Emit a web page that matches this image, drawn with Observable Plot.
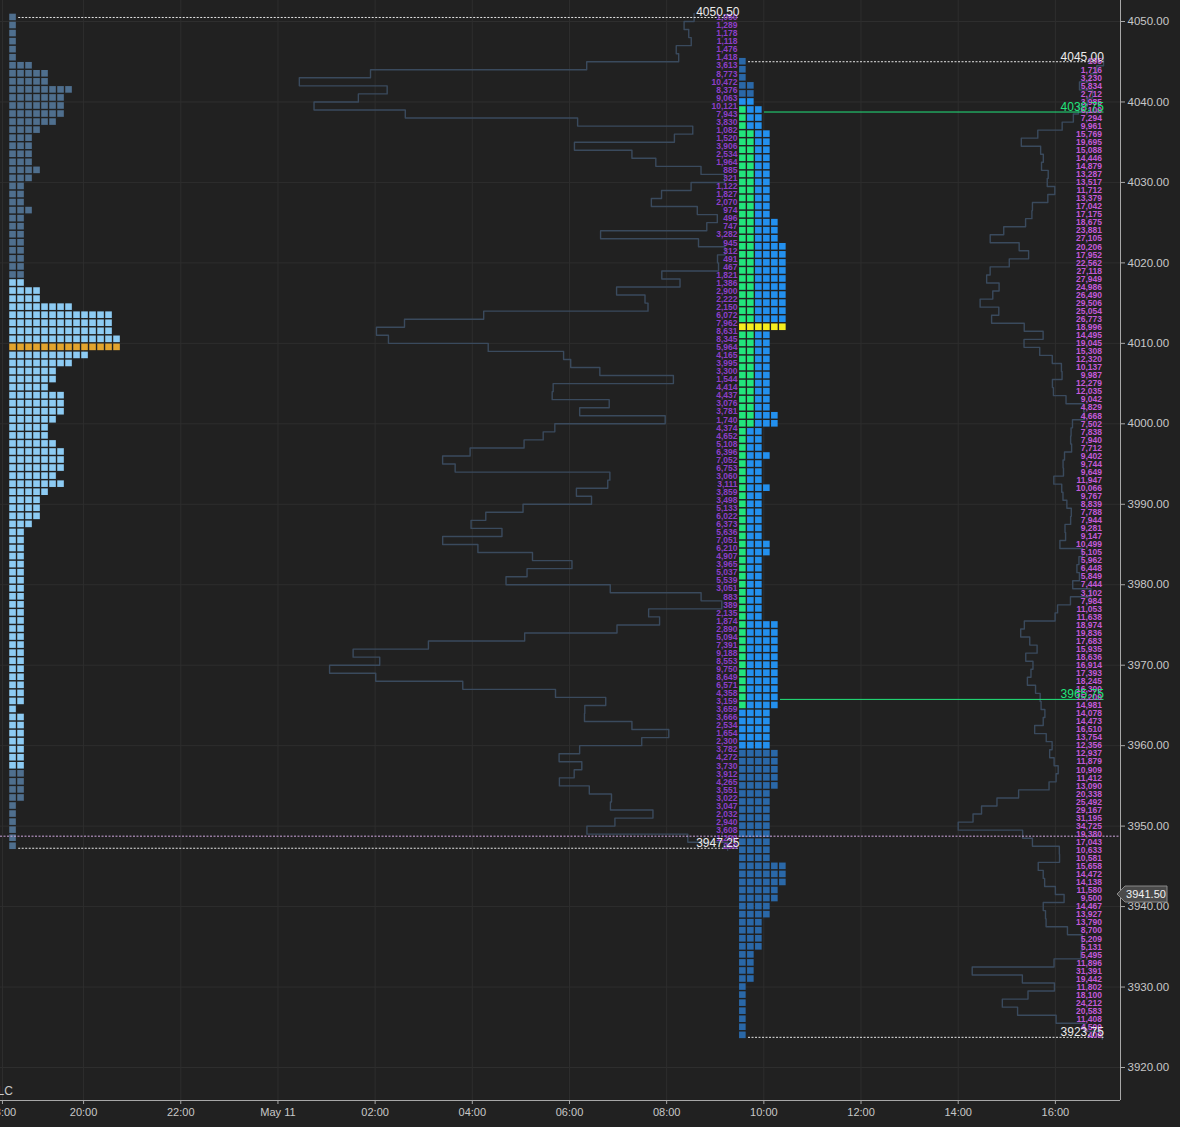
<!DOCTYPE html>
<html><head><meta charset="utf-8">
<script src="https://cdn.jsdelivr.net/npm/d3@7"></script>
<script src="https://cdn.jsdelivr.net/npm/@observablehq/plot@0.6"></script>
<style>html,body{margin:0;padding:0;background:#212121;overflow:hidden}svg{display:block}</style>
</head><body><div id="chart"></div>
<script>
// ---------------- data ----------------
// time axis: hours since May 10 00:00
const timeTicks = [18.33, 20, 22, 24, 26, 28, 30, 32, 34, 36, 38, 40];
const timeLabels = ["18:00","20:00","22:00","May 11","02:00","04:00","06:00","08:00","10:00","12:00","14:00","16:00"];
const priceTicks = [3920,3930,3940,3950,3960,3970,3980,3990,4000,4010,4020,4030,4040,4050];

// overnight (ETH) profile, rows from 4050.5 down to 3947.5
const ethTop = 4050.5;
const ethTPO = [1,1,1,1,1,1,3,5,5,8, 7,7,7,6,4,3,3,3,3,4, 3,2,2,2,3,2,2,2,2,2,
  2,2,2,2,4,4,8,13,13,13, 14,14,10,8,6,6,5,7,7,7, 6,5,5,6,7,7,7,6,7,5,
  4,4,4,3,2,2,2,2,2,2, 2,2,2,2,2,2,2,2,2,2, 2,2,2,2,2,2,1,2,2,2,
  2,2,2,2,2,2,2,2,1,1, 1,1,1,1];
const ethVol = [1050,1289,1178,1118,1476,1418,3613,8773,10472,8376, 9063,10121,7943,3830,1082,1520,3906,2534,1964,885,
  321,1122,1827,2070,974,496,747,3282,945,312, 491,467,1821,1386,2900,2222,2150,6072,7962,8631,
  8345,5964,4165,3995,3300,1544,4414,4437,3076,3781, 1740,4374,4652,5108,6396,7052,6753,3060,3111,3859,
  3498,5133,6022,6373,5636,7051,6210,4907,3965,5037, 5539,3051,883,389,2135,1874,2890,5094,7391,9188,
  8553,9750,8649,6571,4358,3159,3659,3666,2534,1654, 2300,3782,4272,3730,3912,4265,3551,3022,3047,2032,
  2940,3608,1200,250];
const ethVAH = 4017.5, ethVAL = 3957.5, ethPOC = 4009.5;

// day session (RTH) profile, rows from 4045 down to 3924
const rthTop = 4045;
const rthTPO = [1,1,1,2,2,2,3,3,3,4, 4,4,4,4,4,4,4,4,4,4, 5,5,5,6,6,6,6,6,6,6,
  6,6,6,6,4,4,4,4,4,4, 4,4,4,4,5,5,3,3,3,4, 3,3,3,4,3,3,3,3,3,3,
  4,4,3,3,3,3,3,3,3,3, 5,5,5,5,5,5,5,5,5,5, 5,4,4,4,4,4,5,5,5,5,
  5,4,4,4,4,4,4,4,4,4, 6,6,6,5,5,4,4,3,3,3, 3,2,2,2,2,1,1,1,1,1,
  1,1];
const rthIB = [0,0,0,0,0,0,1,1,1,2, 2,2,2,2,2,2,2,2,2,2, 2,2,2,2,2,2,2,2,2,2,
  2,2,2,2,2,2,2,2,2,2, 2,2,2,2,2,2,1,1,1,1, 1,1,1,1,1,1,1,1,1,1,
  1,1,1,1,1,1,1,1,1,1, 1,1,1,1,1,1,1,1,1,1, 1,0,0,0,0,0,0,0,0,0,
  0,0,0,0,0,0,0,0,0,0, 0,0,0,0,0,0,0,0,0,0, 0,0,0,0,0,0,0,0,0,0,
  0,0];
const rthVol = [105,1716,3230,5834,2712,3985,6100,7294,9961,15769,
  19695,15088,14446,14879,13287,13517,11712,13379,17042,17175,
  18675,23881,27105,20206,17952,22562,27118,27949,24986,26490,
  29506,25054,26773,18996,14495,19045,15308,12320,10137,9987,
  12279,12035,9042,4829,4668,7502,7838,7940,7712,9402,
  9744,9649,11947,10066,9767,8839,7788,7944,9281,9147,
  10499,5105,5962,6448,5849,7444,3102,7984,11053,11638,
  18974,19836,17683,15935,18636,16914,17393,18245,16300,15200,
  14981,14078,14473,16510,13754,12356,12937,11879,10909,11412,
  13090,20338,25492,29167,31195,34725,19380,17043,10633,10581,
  15658,14472,14138,11580,9500,14467,13927,13790,8700,5209,
  5131,5495,11896,31391,19442,11802,18100,24212,20583,11408,
  4500,400];
const rthVAH = 4040, rthVAL = 3960, rthPOC = 4012;

// session timing (hours since May 10 00:00)
const ethProfileStart = 18.48, rthOpen = 33.5, rthClose = 41.0;

// reference levels
const dashedLevels = [
  {price: 4050.50, label: "4050.50", kind: "eth"},
  {price: 3947.25, label: "3947.25", kind: "eth"},
  {price: 4045.00, label: "4045.00", kind: "rth"},
  {price: 3923.75, label: "3923.75", kind: "rth"}
];
const ibLevels = [
  {price: 4038.75, label: "4038.75", kind: "rth"},
  {price: 3965.75, label: "3965.75", kind: "rth"}
];
const settlePrice = 3948.75;
const lastPrice = 3941.50;

// ---------------- layout helpers ----------------
const W = 1180, H = 1127, mR = 60, mB = 27;
const xDom = [18.29, 41.34], yDom = [3915.90, 4052.61];
const pxH = (W - mR) / (xDom[1] - xDom[0]);        // px per hour
const colW = 8 / pxH, sqW = 6.6 / pxH;              // TPO column pitch / square width
const sqH = 0.41;                                     // half square height (price units)
const ethVolMax = 9.03, rthVolMax = 3.0;             // widest volume row (hours)

const C = {
  bg: "#212121", grid: "#2e2e2e", axis: "#a8a8a8", text: "#c8c8c8",
  ethOut: "#4f6f8e", ethVA: "#8dcbf3", ethPOC: "#e2a42e",
  rthOut: "#2a68a8", rthVA: "#2390ee", ib: "#22e57c", rthPOCc: "#f6ec1e",
  vline: "#3a4a5d", ethNum: "#8e3fc8", rthNum: "#c35ad8"
};

const ethRows = ethTPO.map((n, k) => ({price: ethTop - k, n, vol: ethVol[k]}));
const rthRows = rthTPO.map((n, i) => ({price: rthTop - i, n, ib: rthIB[i], vol: rthVol[i]}));

const ethCells = [];
for (const r of ethRows) for (let j = 0; j < r.n; j++) {
  const fill = r.price === ethPOC ? C.ethPOC : (r.price <= ethVAH && r.price >= ethVAL ? C.ethVA : C.ethOut);
  ethCells.push({x1: ethProfileStart + j * colW, x2: ethProfileStart + j * colW + sqW, y1: r.price - sqH, y2: r.price + sqH, fill});
}
const rthCells = [];
for (const r of rthRows) for (let j = 0; j < r.n; j++) {
  let fill = r.price <= rthVAH && r.price >= rthVAL ? C.rthVA : C.rthOut;
  if (j < r.ib) fill = C.ib;
  if (r.price === rthPOC) fill = C.rthPOCc;
  rthCells.push({x1: rthOpen + j * colW, x2: rthOpen + j * colW + sqW, y1: r.price - sqH, y2: r.price + sqH, fill});
}

const ethMaxVol = d3.max(ethVol), rthMaxVol = d3.max(rthVol);
const ethLine = ethRows.flatMap(r => {
  const x = rthOpen - 0.03 - r.vol / ethMaxVol * ethVolMax;
  return [{x, y: r.price + 0.5}, {x, y: r.price - 0.5}];
});
const rthLine = rthRows.flatMap(r => {
  const x = rthClose - r.vol / rthMaxVol * rthVolMax;
  return [{x, y: r.price + 0.5}, {x, y: r.price - 0.5}];
});

// level line extents: start right after the profile row that holds the price
function rowEnd(kind, price) {
  if (kind === "eth") {
    const r = ethRows.find(r => Math.abs(r.price - price) <= 0.5);
    return ethProfileStart + r.n * colW + 0.02;
  }
  const r = rthRows.find(r => Math.abs(r.price - price) <= 0.5);
  return rthOpen + r.n * colW + 0.02;
}
const seg = l => ({...l, x1: rowEnd(l.kind, l.price), x2: l.kind === "eth" ? rthOpen : rthClose});
const dashedSegs = dashedLevels.map(seg);
const ibSegs = ibLevels.map(seg);

const fmt = d3.format(",");
const labelMap = new Map(timeTicks.map((t, i) => [t, timeLabels[i]]));
const numFont = "'Liberation Sans Narrow', 'Liberation Sans', Arial, sans-serif";

const plot = Plot.plot({
  width: W, height: H,
  marginLeft: 0, marginRight: mR, marginTop: 0, marginBottom: mB,
  style: {background: C.bg, color: C.text, fontFamily: "'Liberation Sans', Arial, sans-serif", fontSize: "11px", overflow: "visible"},
  x: {domain: xDom},
  y: {domain: yDom},
  marks: [
    Plot.ruleY(priceTicks, {stroke: C.grid, strokeWidth: 1}),
    Plot.ruleX(timeTicks, {stroke: C.grid, strokeWidth: 1}),
    // volume profiles (step outlines)
    Plot.line(ethLine, {x: "x", y: "y", stroke: C.vline, strokeWidth: 1.4}),
    Plot.line(rthLine, {x: "x", y: "y", stroke: C.vline, strokeWidth: 1.4}),
    // TPO squares
    Plot.rect(ethCells, {x1: "x1", x2: "x2", y1: "y1", y2: "y2", fill: "fill"}),
    Plot.rect(rthCells, {x1: "x1", x2: "x2", y1: "y1", y2: "y2", fill: "fill"}),
    // settlement line
    Plot.ruleY([settlePrice], {x1: xDom[0], x2: xDom[1], stroke: "#cfa6de", strokeDasharray: "2,1.5", strokeWidth: 1}),
    // level lines
    Plot.ruleY(dashedSegs, {y: "price", x1: "x1", x2: "x2", stroke: "#e6e6e6", strokeDasharray: "2,1.5", strokeWidth: 1}),
    Plot.ruleY(ibSegs, {y: "price", x1: "x1", x2: "x2", stroke: C.ib, strokeWidth: 1}),
    // volume numbers
    Plot.text(ethRows, {x: rthOpen, y: "price", text: d => fmt(d.vol), textAnchor: "end", dx: -2, fill: C.ethNum, fontSize: 8.5, fontWeight: "bold", fontFamily: numFont}),
    Plot.text(rthRows, {x: rthClose, y: "price", text: d => fmt(d.vol), textAnchor: "end", dx: -2, fill: C.rthNum, fontSize: 8.5, fontWeight: "bold", fontFamily: numFont}),
    // level labels
    Plot.text(dashedSegs, {x: "x2", y: "price", text: "label", textAnchor: "end", lineAnchor: "bottom", dy: -1, fill: "#ececec", fontSize: 12}),
    Plot.text(ibSegs, {x: "x2", y: "price", text: "label", textAnchor: "end", lineAnchor: "bottom", dy: -1, fill: C.ib, fontSize: 12}),
    // axes
    Plot.axisY(priceTicks, {anchor: "right", tickSize: 4, tickPadding: 3, tickFormat: d => d.toFixed(2), fontSize: 11.5, stroke: C.axis, fill: C.text}),
    Plot.axisX(timeTicks, {anchor: "bottom", tickSize: 4, tickPadding: 4, tickFormat: d => labelMap.get(d), fontSize: 11, stroke: C.axis, fill: C.text}),
    Plot.ruleX([xDom[1]], {stroke: C.axis, strokeWidth: 1}),
    Plot.ruleY([yDom[0]], {stroke: C.axis, strokeWidth: 1}),
    Plot.text(["LC"], {frameAnchor: "bottom-left", dx: -3, dy: -6, fill: C.text, fontSize: 12})
  ]
});
document.getElementById("chart").appendChild(plot);

// last price tag on the right axis, positioned through the plot's own scales
const ys = plot.scale("y"), xs = plot.scale("x");
const ty = ys.apply(lastPrice), tx = xs.apply(xDom[1]) - 3;
const svg = d3.select(plot);
svg.append("path")
  .attr("d", `M${tx},${ty} L${tx + 8},${ty - 8} L${tx + 50},${ty - 8} L${tx + 50},${ty + 8} L${tx + 8},${ty + 8} Z`)
  .attr("fill", "#4a4a4a").attr("stroke", "#8a8a8a").attr("stroke-width", 1);
svg.append("text").attr("x", tx + 29).attr("y", ty + 4).attr("text-anchor", "middle")
  .attr("fill", "#f2f2f2").attr("font-size", 11).attr("font-family", "'Liberation Sans', Arial, sans-serif")
  .text(lastPrice.toFixed(2));
</script>
</body></html>
